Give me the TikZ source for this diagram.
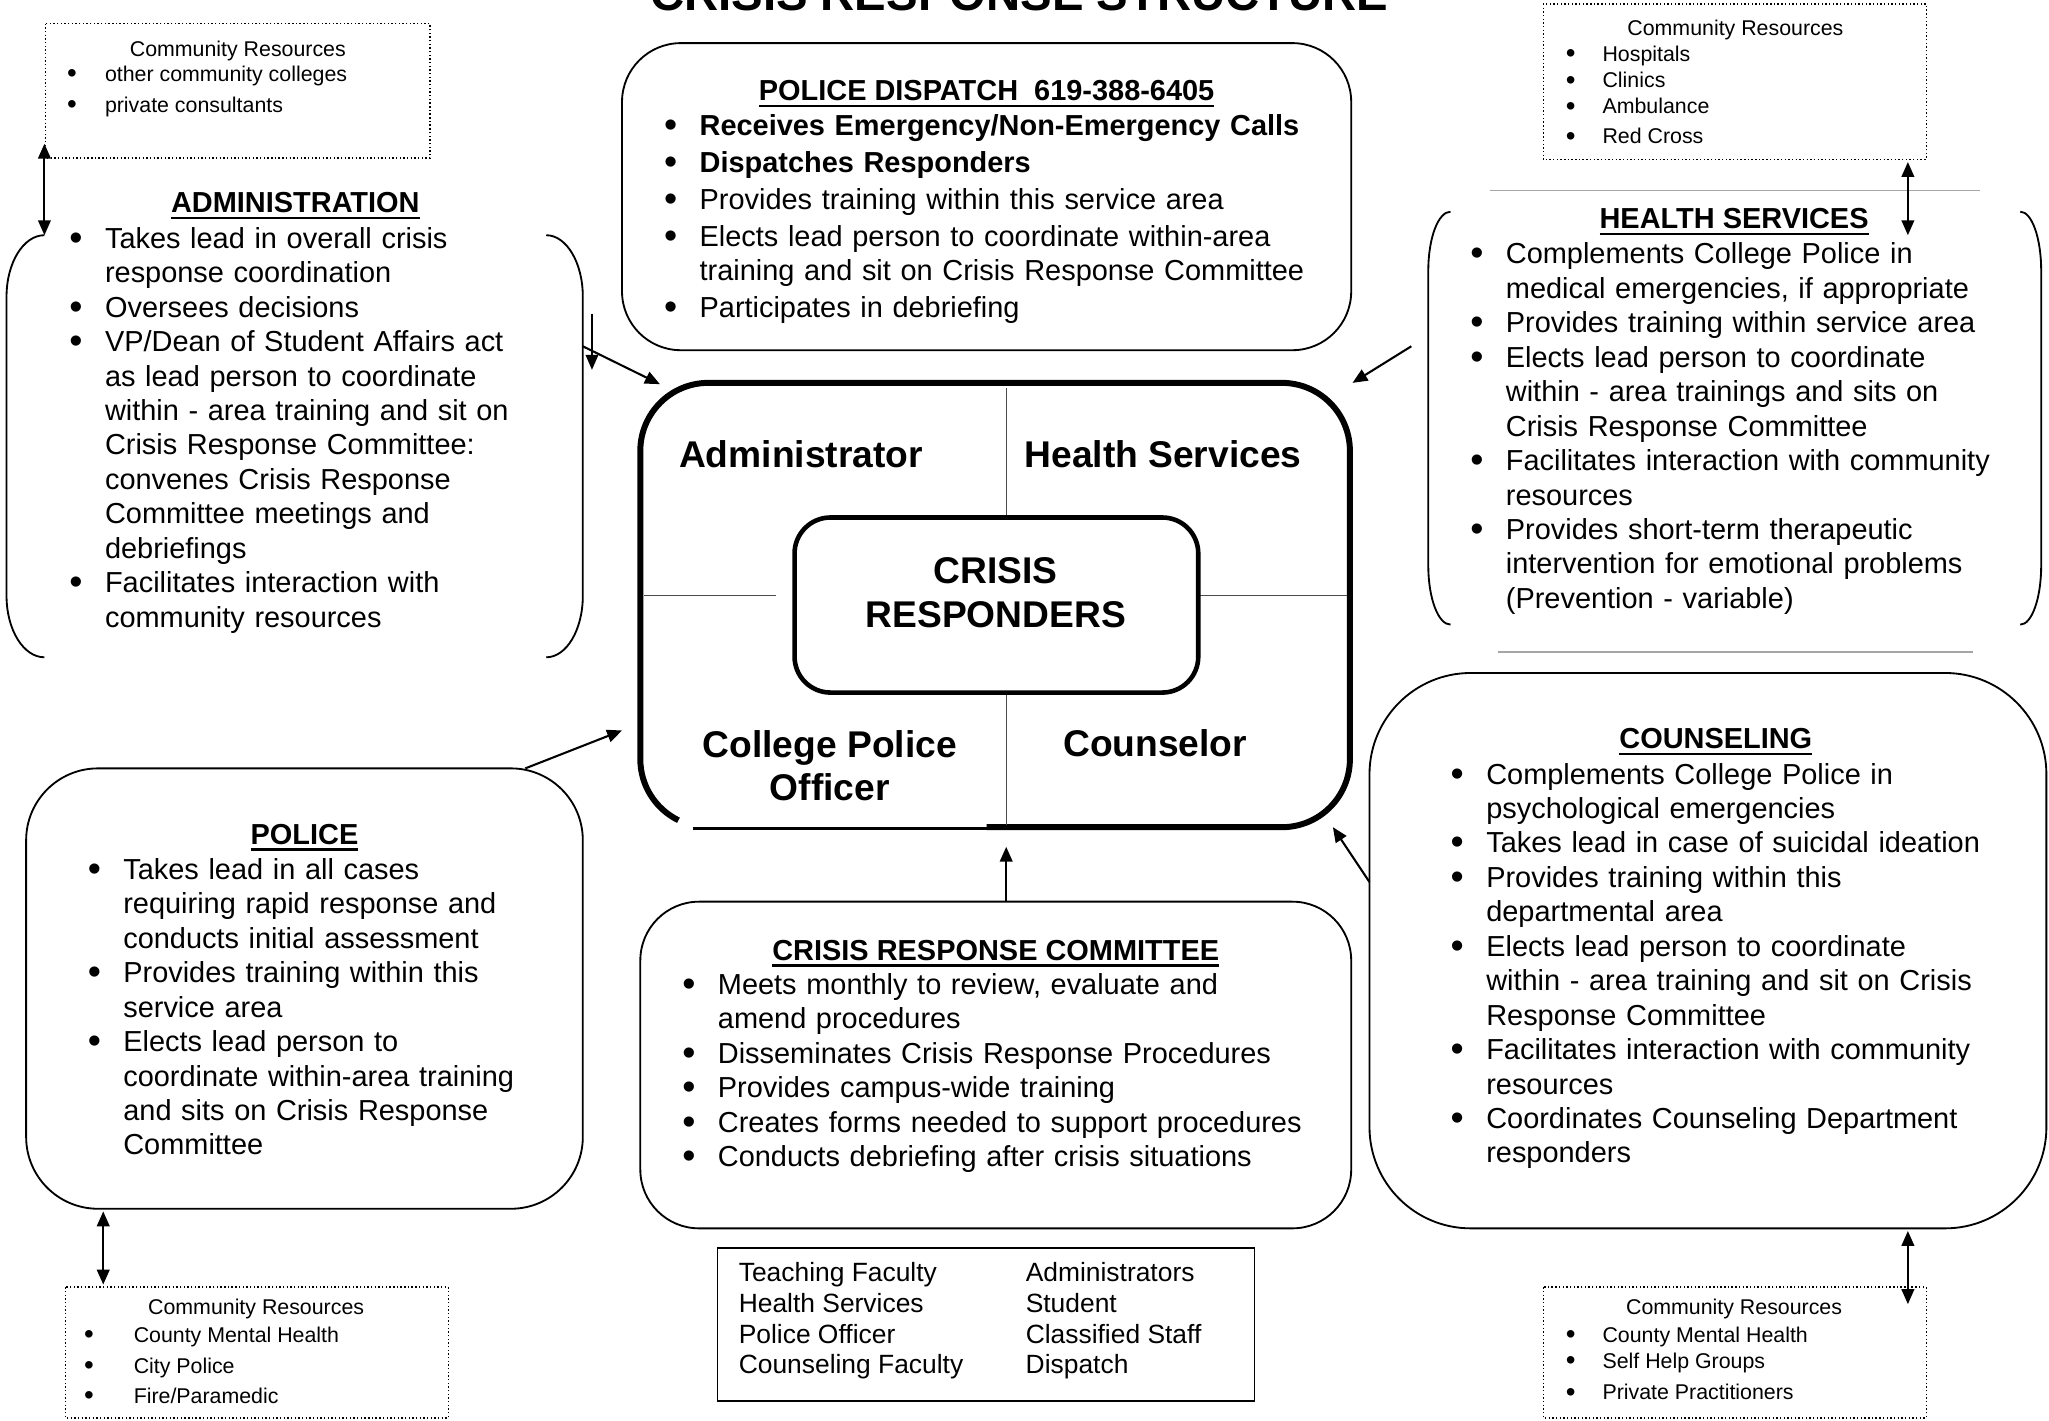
\documentclass[tikz,border=0pt]{standalone}
\usepackage{fontspec}
\setmainfont{Liberation Sans}
\usetikzlibrary{arrows.meta}

\newlength{\bulind}
\setlength{\bulind}{15.5pt}
\newcommand{\bodyfont}{\fontsize{12.6}{15}\selectfont\setlength{\parskip}{0pt}}
\newcommand{\labfont}{\fontsize{16.2}{18.8}\selectfont\bfseries}
\newcommand{\crfont}{\fontsize{9.3}{11}\selectfont}
\newcommand{\memfont}{\fontsize{11.5}{13.3}\selectfont}
\newcommand{\bigbul}{\raisebox{-0.07em}{\scalebox{1.3}{\textbullet}}}
\newcommand{\hdul}[1]{\setbox0=\hbox{#1}\rlap{\rule[-2.8pt]{\wd0}{1.1pt}}\box0}
\newcommand{\itm}[1]{{\hangindent=\bulind\hangafter=1\noindent\makebox[\bulind][l]{\bigbul}#1\par}}

\begin{document}
\begin{tikzpicture}[x=0.02cm, y=-0.02cm,
    panel/.style={draw, line width=0.8pt},
    crbox/.style={draw, densely dotted, line width=0.6pt},
    divider/.style={black!70, line width=0.45pt},
    hd/.style={anchor=base, inner sep=0pt, font=\bodyfont\bfseries},
    items/.style={anchor=base west, inner sep=0pt, text width=11cm, font=\bodyfont},
    lab/.style={inner sep=0pt, align=center, font=\labfont},
    crhd/.style={anchor=base, inner sep=0pt, font=\crfont},
    crtxt/.style={anchor=base west, inner sep=0pt, font=\crfont},
    arr/.style={-{Triangle[length=6.5pt,width=5.5pt]}, line width=0.9pt},
    dblarr/.style={{Triangle[length=6.5pt,width=5.5pt]}-{Triangle[length=6.5pt,width=5.5pt]}, line width=0.9pt}]
    \useasboundingbox (0,0) rectangle (1568,1087);

    % title, cut off by the page top
    \node[anchor=base, inner sep=0pt, font=\fontsize{20.6}{24}\selectfont\bfseries] (title) at (780,8) {CRISIS RESPONSE STRUCTURE};

    % community resources (dotted)
    \draw[crbox] (35,18) rectangle (329,121);
    \node[crhd] (crtl-hd) at (182,43) {Community Resources};
    \foreach \n/\y/\t in {1/62/other community colleges, 2/86/private consultants} {
        \node[crhd] (crtl-b\n) at (55,\y) {\bigbul};
        \node[crtxt] (crtl-\n) at (80,\y) {\t};
    }
    \draw[crbox] (1181,3) rectangle (1474,122);
    \node[crhd] (crtr-hd) at (1328,27) {Community Resources};
    \foreach \n/\y/\t in {1/47/Hospitals, 2/67/Clinics, 3/87/Ambulance, 4/110/Red Cross} {
        \node[crhd] (crtr-b\n) at (1202,\y) {\bigbul};
        \node[crtxt] (crtr-\n) at (1226,\y) {\t};
    }
    \draw[crbox] (50,985) rectangle (343,1085);
    \node[crhd] (crbl-hd) at (196,1006) {Community Resources};
    \foreach \n/\y/\t in {1/1027/County Mental Health, 2/1051/City Police, 3/1074/{Fire/Paramedic}} {
        \node[crhd] (crbl-b\n) at (68,\y) {\bigbul};
        \node[crtxt] (crbl-\n) at (102,\y) {\t};
    }
    \draw[crbox] (1181,985) rectangle (1474,1085);
    \node[crhd] (crbr-hd) at (1327,1006) {Community Resources};
    \foreach \n/\y/\t in {1/1027/County Mental Health, 2/1047/Self Help Groups, 3/1071/Private Practitioners} {
        \node[crhd] (crbr-b\n) at (1202,\y) {\bigbul};
        \node[crtxt] (crbr-\n) at (1226,\y) {\t};
    }

    % administration (side brackets only)
    \draw[line width=0.8pt] (34,180) arc[start angle=270, end angle=180, x radius=29, y radius=47]
        -- (5,456) arc[start angle=180, end angle=90, x radius=29, y radius=47];
    \draw[line width=0.8pt] (418,180) arc[start angle=270, end angle=360, x radius=28, y radius=47]
        -- (446,456) arc[start angle=0, end angle=90, x radius=28, y radius=47];
    \node[hd] (admin-hd) at (226,163) {\hdul{ADMINISTRATION}};
    \node[items] (admin) at (52.8,190) {%
        \itm{Takes lead in overall crisis\newline response coordination}
        \itm{Oversees decisions}
        \itm{VP/Dean of Student Affairs act\newline as lead person to coordinate\newline within - area training and sit on\newline Crisis Response Committee:\newline convenes Crisis Response\newline Committee meetings and\newline debriefings}
        \itm{Facilitates interaction with\newline community resources}};

    % police dispatch
    \draw[panel, rounded corners=0.9cm] (476,33) rectangle (1034,268);
    \node[hd] (disp-hd) at (755,77) {\hdul{POLICE DISPATCH\ \ 619-388-6405}};
    \node[items, font=\bodyfont\setlength{\parskip}{1pt}] (disp) at (507.8,104) {%
        \itm{\textbf{Receives Emergency/Non-Emergency Calls}}
        \itm{\textbf{Dispatches Responders}}
        \itm{Provides training within this service area}
        \itm{Elects lead person to coordinate within-area\newline training and sit on Crisis Response Committee}
        \itm{Participates in debriefing}};

    % health services (side brackets, grey rules)
    \draw[gray!70, line width=0.6pt] (1140,146) -- (1515,146);
    \draw[gray!70, line width=0.6pt] (1146,499) -- (1510,499);
    \draw[line width=0.8pt] (1110,162) arc[start angle=270, end angle=180, x radius=17, y radius=45]
        -- (1093,433) arc[start angle=180, end angle=90, x radius=17, y radius=45];
    \draw[line width=0.8pt] (1546,162) arc[start angle=270, end angle=360, x radius=16, y radius=45]
        -- (1562,433) arc[start angle=0, end angle=90, x radius=16, y radius=45];
    \node[hd] (hlth-hd) at (1327,175) {\hdul{HEALTH SERVICES}};
    \node[items] (hlth) at (1124.8,202) {%
        \itm{Complements College Police in\newline medical emergencies, if appropriate}
        \itm{Provides training within service area}
        \itm{Elects lead person to coordinate\newline within - area trainings and sits on\newline Crisis Response Committee}
        \itm{Facilitates interaction with community\newline resources}
        \itm{Provides short-term therapeutic\newline intervention for emotional problems\newline (Prevention - variable)}};

    % crisis responders
    \draw[line width=2.6pt] (519.2,627.7) arc[start angle=116, end angle=180, radius=52]
        -- (490,345) arc[start angle=180, end angle=270, radius=52]
        -- (981,293) arc[start angle=270, end angle=360, radius=52]
        -- (1033,581) arc[start angle=0, end angle=90, radius=52] -- (755,633);
    \draw[line width=1.2pt] (530,634) -- (755,634);
    \draw[divider] (770,297) -- (770,395);
    \draw[divider] (770,531) -- (770,631);
    \draw[divider] (493,456) -- (594,456);
    \draw[divider] (918,456) -- (1031,456);
    \node[draw, line width=2pt, rounded corners=0.55cm, minimum width=6.18cm, minimum height=2.68cm, inner sep=0pt] (core) at (762.5,463) {};
    \node[lab] (core-lbl) at (762,453.5) {CRISIS\\RESPONDERS};
    \node[lab, anchor=base] (q-admin) at (613,358) {Administrator};
    \node[lab, anchor=base] (q-hlth) at (890,358) {Health Services};
    \node[lab] (q-pol) at (635,586) {College Police\\Officer};
    \node[lab, anchor=base] (q-couns) at (884,579) {Counselor};

    % police
    \draw[panel, rounded corners=1.1cm] (20,588) rectangle (446,925);
    \node[hd] (pol-hd) at (233,646) {\hdul{POLICE}};
    \node[items] (pol) at (66.8,673) {%
        \itm{Takes lead in all cases\newline requiring rapid response and\newline conducts initial assessment}
        \itm{Provides training within this\newline service area}
        \itm{Elects lead person to\newline coordinate within-area training\newline and sits on Crisis Response\newline Committee}};

    % committee
    \draw[panel, rounded corners=0.9cm] (490,690) rectangle (1034,940);
    \node[hd] (crc-hd) at (762,735) {\hdul{CRISIS RESPONSE COMMITTEE}};
    \node[items] (crc) at (521.8,761) {%
        \itm{Meets monthly to review, evaluate and\newline amend procedures}
        \itm{Disseminates Crisis Response Procedures}
        \itm{Provides campus-wide training}
        \itm{Creates forms needed to support procedures}
        \itm{Conducts debriefing after crisis situations}};
    \draw[panel] (549,955) rectangle (960,1072);
    \node[anchor=base west, inner sep=0pt, font=\memfont] (members) at (565,981) {%
        \begin{tabular}[t]{@{}p{125pt}@{}l@{}}
        Teaching Faculty & Administrators\\
        Health Services & Student\\
        Police Officer & Classified Staff\\
        Counseling Faculty & Dispatch
        \end{tabular}};

    % counseling
    \draw[panel, rounded corners=1.55cm] (1048,515) rectangle (1566,940);
    \node[hd] (cns-hd) at (1313,573) {\hdul{COUNSELING}};
    \node[items] (cns) at (1109.8,600) {%
        \itm{Complements College Police in\newline psychological emergencies}
        \itm{Takes lead in case of suicidal ideation}
        \itm{Provides training within this\newline departmental area}
        \itm{Elects lead person to coordinate\newline within - area training and sit on Crisis\newline Response Committee}
        \itm{Facilitates interaction with community\newline resources}
        \itm{Coordinates Counseling Department\newline responders}};

    % connector ends
    \coordinate (crtl-s) at (34,110);   \coordinate (admin-n) at (34,180);
    \coordinate (crtr-s) at (1460,124); \coordinate (hlth-n) at (1460,180);
    \coordinate (pol-s) at (79,927);    \coordinate (crbl-n) at (79,983);
    \coordinate (cns-s) at (1460,942);  \coordinate (crbr-n) at (1460,998);
    \coordinate (stray-a) at (453,240); \coordinate (stray-b) at (453,283);
    \coordinate (admin-e) at (446,265); \coordinate (core-nw) at (505,294);
    \coordinate (hlth-w) at (1080,265); \coordinate (core-ne) at (1035,293);
    \coordinate (pol-ne) at (402,588);  \coordinate (core-w) at (476,559);
    \coordinate (crc-n) at (770,690);   \coordinate (core-s) at (770,648);
    \coordinate (cns-nw) at (1048,675); \coordinate (core-se) at (1020,633);

    \draw[dblarr] (crtl-s) -- (admin-n);
    \draw[dblarr] (crtr-s) -- (hlth-n);
    \draw[dblarr] (pol-s) -- (crbl-n);
    \draw[dblarr] (cns-s) -- (crbr-n);
    \draw[arr, line width=0.6pt] (stray-a) -- (stray-b);
    \draw[arr] (admin-e) -- (core-nw);
    \draw[arr] (hlth-w) -- (core-ne);
    \draw[arr] (pol-ne) -- (core-w);
    \draw[arr] (crc-n) -- (core-s);
    \draw[arr] (cns-nw) -- (core-se);
\end{tikzpicture}
\end{document}
